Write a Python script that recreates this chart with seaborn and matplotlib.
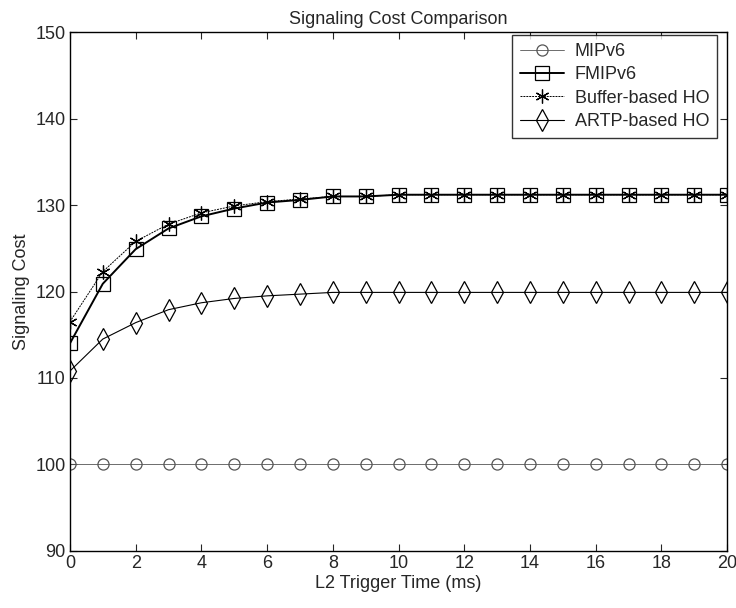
import pandas as pd
import seaborn as sns
import matplotlib.pyplot as plt

# --- Data ---
trigger_ms = list(range(0, 21))
mipv6 = [100] * 21
fmipv6 = [114.0, 120.9, 124.9, 127.3, 128.7, 129.6, 130.3, 130.6, 131.0, 131.0,
          131.2, 131.2, 131.2, 131.2, 131.2, 131.2, 131.2, 131.2, 131.2, 131.2, 131.2]
buffer_ho = [116.5, 122.3, 125.8, 127.8, 129.1, 129.9, 130.4, 130.7, 131.0, 131.0,
             131.2, 131.2, 131.2, 131.2, 131.2, 131.2, 131.2, 131.2, 131.2, 131.2, 131.2]
artp_ho = [110.8, 114.5, 116.4, 117.9, 118.7, 119.2, 119.5, 119.7, 119.9, 119.9,
           119.9, 119.9, 119.9, 119.9, 119.9, 119.9, 119.9, 119.9, 119.9, 119.9, 119.9]

series = {
    "MIPv6": mipv6,
    "FMIPv6": fmipv6,
    "Buffer-based HO": buffer_ho,
    "ARTP-based HO": artp_ho,
}
# asterisk-like marker for the buffer series (6-arm)
styles = {
    "MIPv6": dict(marker="o", lw=0.6, ls="-", ms=8, color="#555555"),
    "FMIPv6": dict(marker="s", lw=1.4, ls="-", ms=10, color="black"),
    "Buffer-based HO": dict(marker=(6, 2, 0), lw=0.7, ls=(0, (2, 1)), ms=10, color="black"),
    "ARTP-based HO": dict(marker="d", lw=0.8, ls="-", ms=11, color="black"),
}

sns.set_style("ticks")
plt.rcParams["font.family"] = ["Liberation Sans", "DejaVu Sans"]

fig = plt.figure(figsize=(7.36, 6.08), dpi=100)
ax = fig.add_axes([0.095, 0.094, 0.893, 0.853])

for name, vals in series.items():
    df = pd.DataFrame({"x": trigger_ms, "y": vals})
    st = styles[name]
    sns.lineplot(data=df, x="x", y="y", ax=ax, label=name, color=st["color"],
                 linewidth=st["lw"], linestyle=st["ls"], marker=st["marker"],
                 markersize=st["ms"], markerfacecolor="none",
                 markeredgecolor=st["color"], markeredgewidth=0.9)

ax.set_xlim(0, 20)
ax.set_ylim(90, 150)
ax.set_xticks(range(0, 21, 2))
ax.set_yticks(range(90, 151, 10))
ax.tick_params(direction="in", top=True, right=True, length=5, labelsize=13, pad=3)
for sp in ax.spines.values():
    sp.set_linewidth(1.0)
    sp.set_color("black")

ax.set_title("Signaling Cost Comparison", fontsize=13, pad=6)
ax.set_xlabel("L2 Trigger Time (ms)", fontsize=13, labelpad=2)
ax.set_ylabel("Signaling Cost", fontsize=13, labelpad=4)

leg = ax.legend(loc="upper right", bbox_to_anchor=(0.985, 0.995), fontsize=13,
                frameon=True, fancybox=False, edgecolor="black", handlelength=2.4,
                borderaxespad=0.0, labelspacing=0.35, handletextpad=0.6, borderpad=0.45)
leg.get_frame().set_linewidth(1.0)

fig.savefig("out.png", dpi=100)
plt.close(fig)
